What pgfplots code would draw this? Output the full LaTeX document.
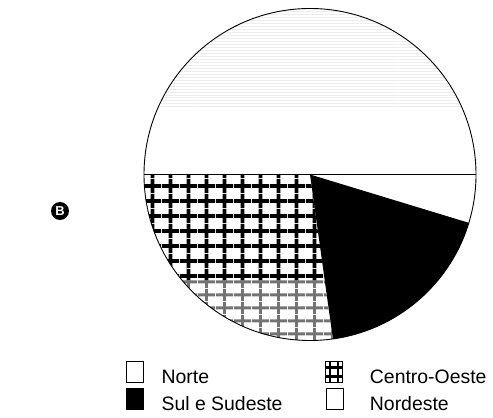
\documentclass[border=0pt]{standalone}
\usepackage{pgfplots}
\pgfplotsset{compat=1.18}
\usepackage{pgfplotstable}
\usepackage{fontspec}
\setmainfont{Liberation Sans}
\usetikzlibrary{patterns}

% grid used for Centro-Oeste
\pgfdeclarepatternformonly{cograd}{\pgfpointorigin}{\pgfpoint{18bp}{15bp}}{\pgfpoint{18bp}{15bp}}{%
  \pgfsetlinewidth{4.5bp}%
  \pgfpathmoveto{\pgfpoint{9bp}{0bp}}\pgfpathlineto{\pgfpoint{9bp}{15bp}}%
  \pgfsetlinewidth{4bp}%
  \pgfpathmoveto{\pgfpoint{0bp}{7.5bp}}\pgfpathlineto{\pgfpoint{18bp}{7.5bp}}%
  \pgfusepath{stroke}}
\pgfdeclarepatternformonly{cogradthin}{\pgfpointorigin}{\pgfpoint{18bp}{13bp}}{\pgfpoint{18bp}{13bp}}{%
  \pgfsetlinewidth{3bp}%
  \pgfpathmoveto{\pgfpoint{9bp}{0bp}}\pgfpathlineto{\pgfpoint{9bp}{13bp}}%
  \pgfpathmoveto{\pgfpoint{0bp}{6.5bp}}\pgfpathlineto{\pgfpoint{18bp}{6.5bp}}%
  \pgfusepath{stroke}}

\pgfplotstableread{
regiao   valor
Norte    4.7
Sul      18.1
Centro   27.2
Nordeste 50.0
}\piedata

\begin{document}%
\pgfplotstablegetelem{0}{valor}\of\piedata\pgfmathsetmacro\aA{-3.6*\pgfplotsretval}%
\pgfplotstablegetelem{1}{valor}\of\piedata\pgfmathsetmacro\aB{\aA-3.6*\pgfplotsretval}%
\pgfplotstablegetelem{2}{valor}\of\piedata\pgfmathsetmacro\aC{\aB-3.6*\pgfplotsretval}%
\pgfplotstablegetelem{3}{valor}\of\piedata\pgfmathsetmacro\aD{\aC-3.6*\pgfplotsretval}%
\begin{tikzpicture}
\begin{axis}[
    scale only axis,
    width=493bp, height=418bp,
    xmin=0, xmax=493, ymin=0, ymax=418,
    hide axis, clip=false,
    legend columns=2,
    legend cell align=left,
    legend style={at={(axis cs:123,2)}, anchor=south west, draw=none, fill=none,
        font=\fontsize{19.5}{21}\selectfont, row sep=1bp,
        /tikz/every even column/.append style={column sep=40bp}},
    legend image code/.code={\draw[#1] (0bp,-5bp) rectangle (17bp,16bp);
        \path (33bp,0bp);}
    ]
    \path (axis cs:0,0) rectangle (axis cs:493,418);
    % Nordeste
    \fill[white] (axis cs:310,243.5) -- ++(\aC:166bp) arc[start angle=\aC, end angle=\aD, radius=166bp] -- cycle;
    \begin{scope}
    \clip (axis cs:310,243.5) -- ++(\aC:166bp) arc[start angle=\aC, end angle=\aD, radius=166bp] -- cycle;
    \fill[pattern=horizontal lines, pattern color=black!7] (axis cs:140,310) rectangle (axis cs:480,412);
    \end{scope}
    % Norte
    \fill[white] (axis cs:310,243.5) -- ++(0:166bp) arc[start angle=0, end angle=\aA, radius=166bp] -- cycle;
    % Sul e Sudeste
    \fill[black] (axis cs:310,243.5) -- ++(\aA:166bp) arc[start angle=\aA, end angle=\aB, radius=166bp] -- cycle;
    % Centro-Oeste
    \begin{scope}
    \clip (axis cs:310,243.5) -- ++(\aB:166bp) arc[start angle=\aB, end angle=\aC, radius=166bp] -- cycle;
    \fill[pattern=cograd] (axis cs:140,137) rectangle (axis cs:480,250);
    \fill[pattern=cogradthin, pattern color=black!55] (axis cs:140,70) rectangle (axis cs:480,137);
    \end{scope}
    \draw[line width=0.9bp] (axis cs:310,243.5) circle[radius=166bp];
    \draw[line width=0.9bp] (axis cs:144,243.5) -- (axis cs:476,243.5);
    \node[circle, fill=black, text=white, inner sep=0pt, minimum size=18bp,
          font=\bfseries\fontsize{13}{13}\selectfont] at (axis cs:60,207) {B};

    \addlegendimage{draw=black, fill=white}
    \addlegendentry{Norte}
    \addlegendimage{legend image code/.code={%
        \fill[white] (0bp,-5bp) rectangle (17bp,16bp);
        \draw[line width=2.4bp] (4.5bp,-5bp) -- (4.5bp,16bp) (12.5bp,-5bp) -- (12.5bp,16bp);
        \draw[line width=2.4bp] (0bp,1bp) -- (17bp,1bp) (0bp,10bp) -- (17bp,10bp);
        \draw[line width=0.8bp] (0bp,-5bp) rectangle (17bp,16bp);
        \path (42bp,0bp);}}
    \addlegendentry{Centro-Oeste}
    \addlegendimage{draw=black, fill=black}
    \addlegendentry{Sul e Sudeste}
    \addlegendimage{legend image code/.code={%
        \draw[draw=black, fill=white] (0bp,-5bp) rectangle (17bp,16bp);
        \path (42bp,0bp);}}
    \addlegendentry{Nordeste}
\end{axis}
\end{tikzpicture}%
\end{document}
